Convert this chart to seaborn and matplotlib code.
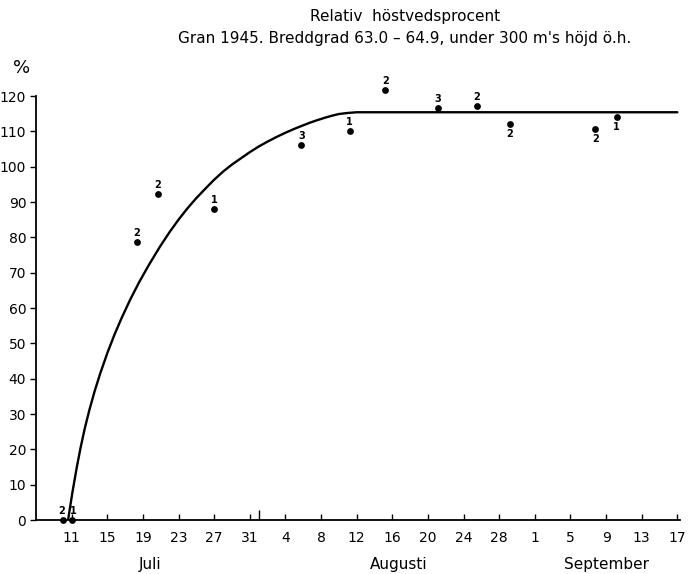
import matplotlib
matplotlib.use("Agg")
import matplotlib.pyplot as plt
import seaborn as sns
import numpy as np
import pandas as pd

# x values are days counted from 30 June 1945 (1 = 1 July, 32 = 1 Aug, 63 = 1 Sep)
point_day = [10, 11, 18.3, 20.7, 27, 36.8, 42.2, 46.2, 52.1, 56.5, 60.2, 69.8, 72.2]
point_pct = [0, 0, 78.7, 92.3, 88.0, 106.1, 110.1, 121.7, 116.6, 117.2, 112.1, 110.7, 114.1]
point_n = ["2", "1", "2", "2", "1", "3", "1", "2", "3", "2", "2", "2", "1"]

curve_day = [10.6, 11.1, 11.6, 12.0, 12.5, 13.0, 13.6, 14.2, 15.0, 15.8, 16.6, 17.6,
             18.6, 19.7, 20.9, 22.0, 23.0, 24.0, 25.0, 26.1, 27.0, 28.0, 29.0,
             29.8, 31.0, 32.0, 33.0, 34.0, 35.0, 36.0, 37.0, 37.7, 38.5, 39.5,
             40.2, 41.0, 42.0, 43.0, 79.0]
curve_pct = [0, 8, 15.2, 20.4, 26.2, 31.2, 36.6, 41.4, 47.2, 52.4, 57.1, 62.5,
             67.4, 72.3, 77.3, 81.5, 85, 88.2, 91.1, 94, 96.3, 98.6, 100.6,
             102, 104.1, 105.7, 107.1, 108.4, 109.6, 110.7, 111.7, 112.4, 113.1, 113.9,
             114.4, 114.9, 115.2, 115.4, 115.4]

tick_labels = ["11", "15", "19", "23", "27", "31", "4", "8", "12", "16", "20",
               "24", "28", "1", "5", "9", "13", "17"]
months = ["Juli", "Augusti", "September"]
month_pos = [19.8, 47.7, 71.0]

title1 = "Relativ  höstvedsprocent"
title2 = "Gran 1945. Breddgrad 63.0 – 64.9, under 300 m's höjd ö.h."

sns.set_style("ticks")
plt.rcParams["font.family"] = ["DejaVu Sans"]
plt.rcParams["text.color"] = "black"
plt.rcParams["xtick.color"] = "black"
plt.rcParams["ytick.color"] = "black"
plt.rcParams["axes.edgecolor"] = "black"

fig = plt.figure(figsize=(6.88, 5.74), dpi=100)
ax = fig.add_axes([36 / 688, 1 - 520 / 574, (680 - 36) / 688, (520 - 96) / 574])

pts = pd.DataFrame({"day": point_day, "pct": point_pct, "n": point_n})
crv = pd.DataFrame({"day": curve_day, "pct": curve_pct})

sns.lineplot(data=crv, x="day", y="pct", ax=ax, color="black", lw=1.7,
             estimator=None, sort=False)
sns.scatterplot(data=pts, x="day", y="pct", ax=ax, color="black", s=24,
                edgecolor="black", linewidth=0, zorder=5, clip_on=False)

below = {10, 11, 12}
for i, (d, p, n) in enumerate(zip(point_day, point_pct, point_n)):
    if i in below:
        ax.annotate(n, (d, p), xytext=(0, -4), textcoords="offset points",
                    ha="center", va="top", fontsize=7, fontweight="bold",
                    color="black", annotation_clip=False)
    else:
        dx = -1 if i == 0 else (1 if i == 1 else 0)
        ax.annotate(n, (d, p), xytext=(dx, 3), textcoords="offset points",
                    ha="center", va="bottom", fontsize=7, fontweight="bold",
                    color="black", annotation_clip=False)

ax.set_xlim(7, 79.3)
ax.set_ylim(0, 120)
ax.set_xticks(np.arange(11, 80, 4))
ax.set_xticklabels(tick_labels, fontsize=10)
ax.set_xticks([32], minor=True)
ax.tick_params(axis="x", which="major", direction="in", length=4, width=1, pad=8)
ax.tick_params(axis="x", which="minor", direction="in", length=7, width=1)
ax.set_yticks(np.arange(0, 121, 10))
ax.set_yticklabels([str(v) for v in range(0, 121, 10)], fontsize=10)
ax.tick_params(axis="y", direction="out", length=4, width=1, pad=3)
ax.set_xlabel("")
ax.set_ylabel("")
for s in ["top", "right"]:
    ax.spines[s].set_visible(False)
for s in ["left", "bottom"]:
    ax.spines[s].set_linewidth(1.3)
    ax.spines[s].set_color("black")

for m, pos in zip(months, month_pos):
    ax.text(pos, -0.105, m, transform=ax.get_xaxis_transform(), ha="center",
            va="center", fontsize=11, color="black")

fig.text(22 / 688, 1 - 68 / 574, "%", ha="center", va="center", fontsize=13)
fig.text(405 / 688, 1 - 17 / 574, title1, ha="center", va="center", fontsize=11)
fig.text(405 / 688, 1 - 38 / 574, title2, ha="center", va="center", fontsize=11)

fig.savefig("out.png", dpi=100)
